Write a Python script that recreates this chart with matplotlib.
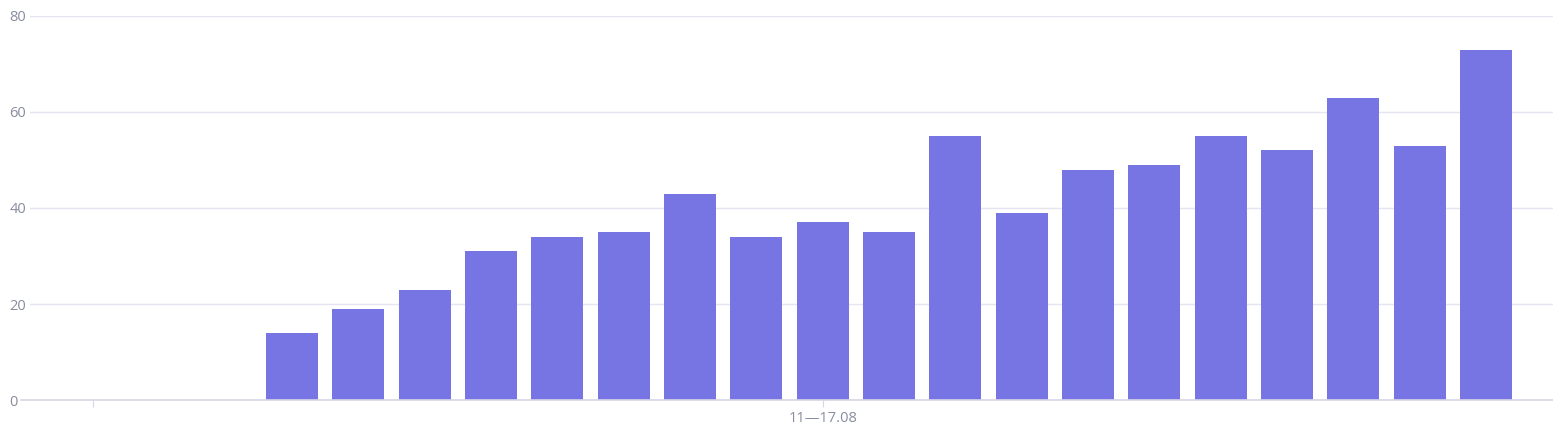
import numpy as np
import matplotlib.pyplot as plt

# weekly values (bars), x index of each bar
values = [14, 19, 23, 31, 34, 35, 43, 34, 37, 35, 55, 39, 48, 49, 55, 52, 63, 53, 73]
positions = np.arange(len(values))
tick_pos = [-3, 8]
tick_labels = ['', '11\u201417.08']
yticks = [0, 20, 40, 60, 80]

bar_color = '#7775e3'
grid_color = '#e4e4f2'
axis_color = '#d6d6e6'
text_color = '#878ca0'

fig = plt.figure(figsize=(15.53, 4.43), dpi=100)
left = 30
ax = fig.add_axes([left / 1553, 43 / 443, 1 - left / 1553, 384 / 443])

ax.bar(positions, values, width=0.784, color=bar_color, zorder=3)

ax.set_xlim(-3.95, 19.01)
ax.set_ylim(0, 80)
ax.set_yticks(yticks)
ax.set_xticks(tick_pos)
ax.set_xticklabels(tick_labels)

ax.grid(axis='y', color=grid_color, linewidth=1, zorder=0)
for s in ['top', 'right', 'left', 'bottom']:
    ax.spines[s].set_visible(False)
# x axis line reaches a bit further left than the grid
ax.plot([-9 / 1523, 1], [0, 0], transform=ax.transAxes, color=axis_color,
        linewidth=1.2, clip_on=False, zorder=4)

ax.tick_params(axis='y', length=0, pad=15, labelsize=10.5, labelcolor=text_color)
ax.tick_params(axis='x', length=5, color=axis_color, pad=3, labelsize=10.5, labelcolor=text_color)
for lbl in ax.get_yticklabels():
    lbl.set_family('Open Sans')
    lbl.set_horizontalalignment('left')
for lbl in ax.get_xticklabels():
    lbl.set_family('Open Sans')

fig.savefig('out.png', dpi=100)
